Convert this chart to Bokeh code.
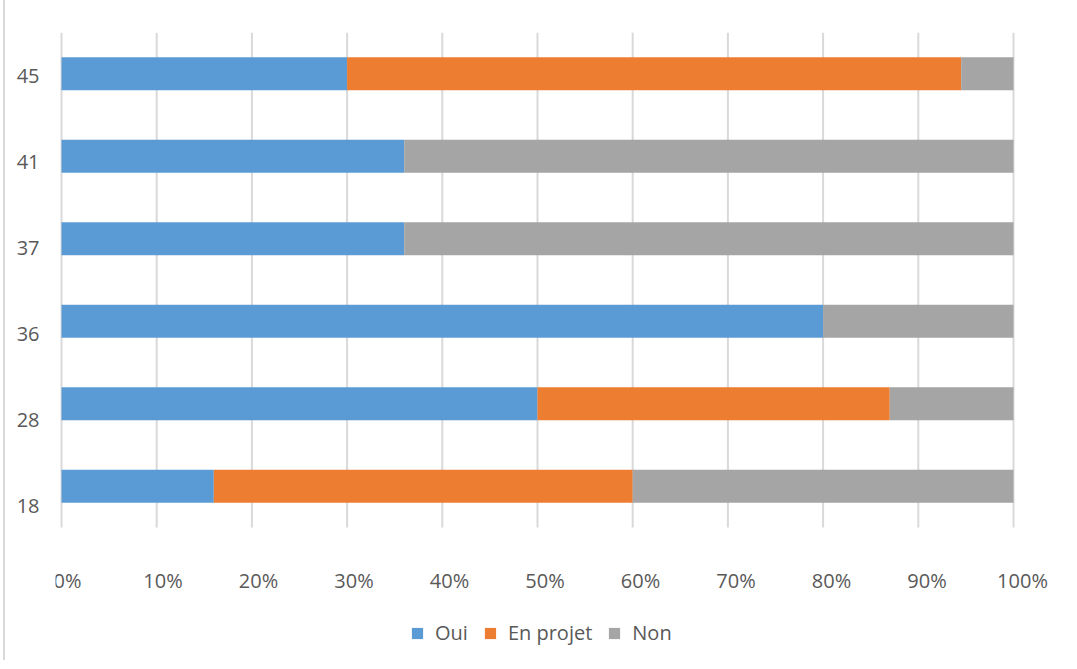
from bokeh.plotting import figure
from bokeh.models import Range1d, LinearAxis, FixedTicker, Legend, LegendItem
from bokeh.core.properties import value
from bokeh.embed import file_html
from bokeh.resources import INLINE

categories = ["18", "28", "36", "37", "41", "45"]
oui = [0.16, 0.50, 0.80, 0.36, 0.36, 0.30]
en_projet = [0.44, 0.37, 0.00, 0.00, 0.00, 0.645]
non = [0.40, 0.13, 0.20, 0.64, 0.64, 0.055]
x_ticks = [0.0, 0.1, 0.2, 0.3, 0.4, 0.5, 0.6, 0.7, 0.8, 0.9, 1.0]
x_labels = ["0%", "10%", "20%", "30%", "40%", "50%", "60%", "70%", "80%", "90%", "100%"]
series = ["Oui", "En projet", "Non"]
colors = ["#5B9BD5", "#ED7D31", "#A5A5A5"]

FONT = "Open Sans"
TXT = "#595959"

n = len(categories)
pos = list(range(n))

p = figure(frame_width=1005, frame_height=628, output_backend="svg", toolbar_location=None,
           x_axis_location=None, y_axis_location=None,
           y_range=Range1d(-2.112, n - 0.5),
           x_range=Range1d(-0.0063, 1.04937),
           min_border_left=55, min_border_right=12, min_border_top=32, min_border_bottom=0)
p.outline_line_color = None
p.background_fill_color = "white"
p.border_fill_color = None
p.grid.grid_line_color = None

# vertical gridlines over the bar area
p.segment(x0=x_ticks, x1=x_ticks, y0=-0.5, y1=n - 0.5, line_color="#D9D9D9", line_width=2)

data = dict(pos=pos, cat=categories, oui=oui, proj=en_projet, non=non)
renderers = p.hbar_stack(["oui", "proj", "non"], y="pos", height=0.4, color=colors,
                         line_color=None, source=data)

# x tick labels
p.extra_x_ranges = {"xlab": Range1d(-0.01257, 1.03979)}
p.text(x=x_ticks, y=-1.142, text=x_labels, x_range_name="xlab",
       text_font=value(FONT), text_font_size="20px", text_color=TXT,
       text_align="center", text_baseline="middle")

# y labels axis
p.extra_y_ranges = {"lab": Range1d(-1.8023, 5.5)}
yax = LinearAxis(y_range_name="lab",
                 ticker=FixedTicker(ticks=pos),
                 major_label_overrides={i: c for i, c in zip(pos, categories)})
yax.axis_line_color = None
yax.major_tick_line_color = None
yax.minor_tick_line_color = None
yax.major_tick_out = 0
yax.major_tick_in = 0
yax.major_label_text_font = FONT
yax.major_label_text_font_size = "20px"
yax.major_label_text_color = TXT
yax.major_label_standoff = 16
p.add_layout(yax, "left")

legend = Legend(items=[LegendItem(label=s, renderers=[r]) for s, r in zip(series, renderers)],
                orientation="horizontal", location=(355, 14),
                glyph_width=14, glyph_height=14, label_standoff=11, spacing=15,
                padding=0, margin=0, border_line_color=None, background_fill_alpha=0,
                label_text_font=FONT, label_text_font_size="20px", label_text_color=TXT)
p.add_layout(legend, "center")

p.styles = {"background-image": "linear-gradient(to right, #FFFFFF 3px, #D9D9D9 3px, #D9D9D9 5px, #FFFFFF 5px)"}

open("out.html", "w").write(file_html(p, INLINE))
